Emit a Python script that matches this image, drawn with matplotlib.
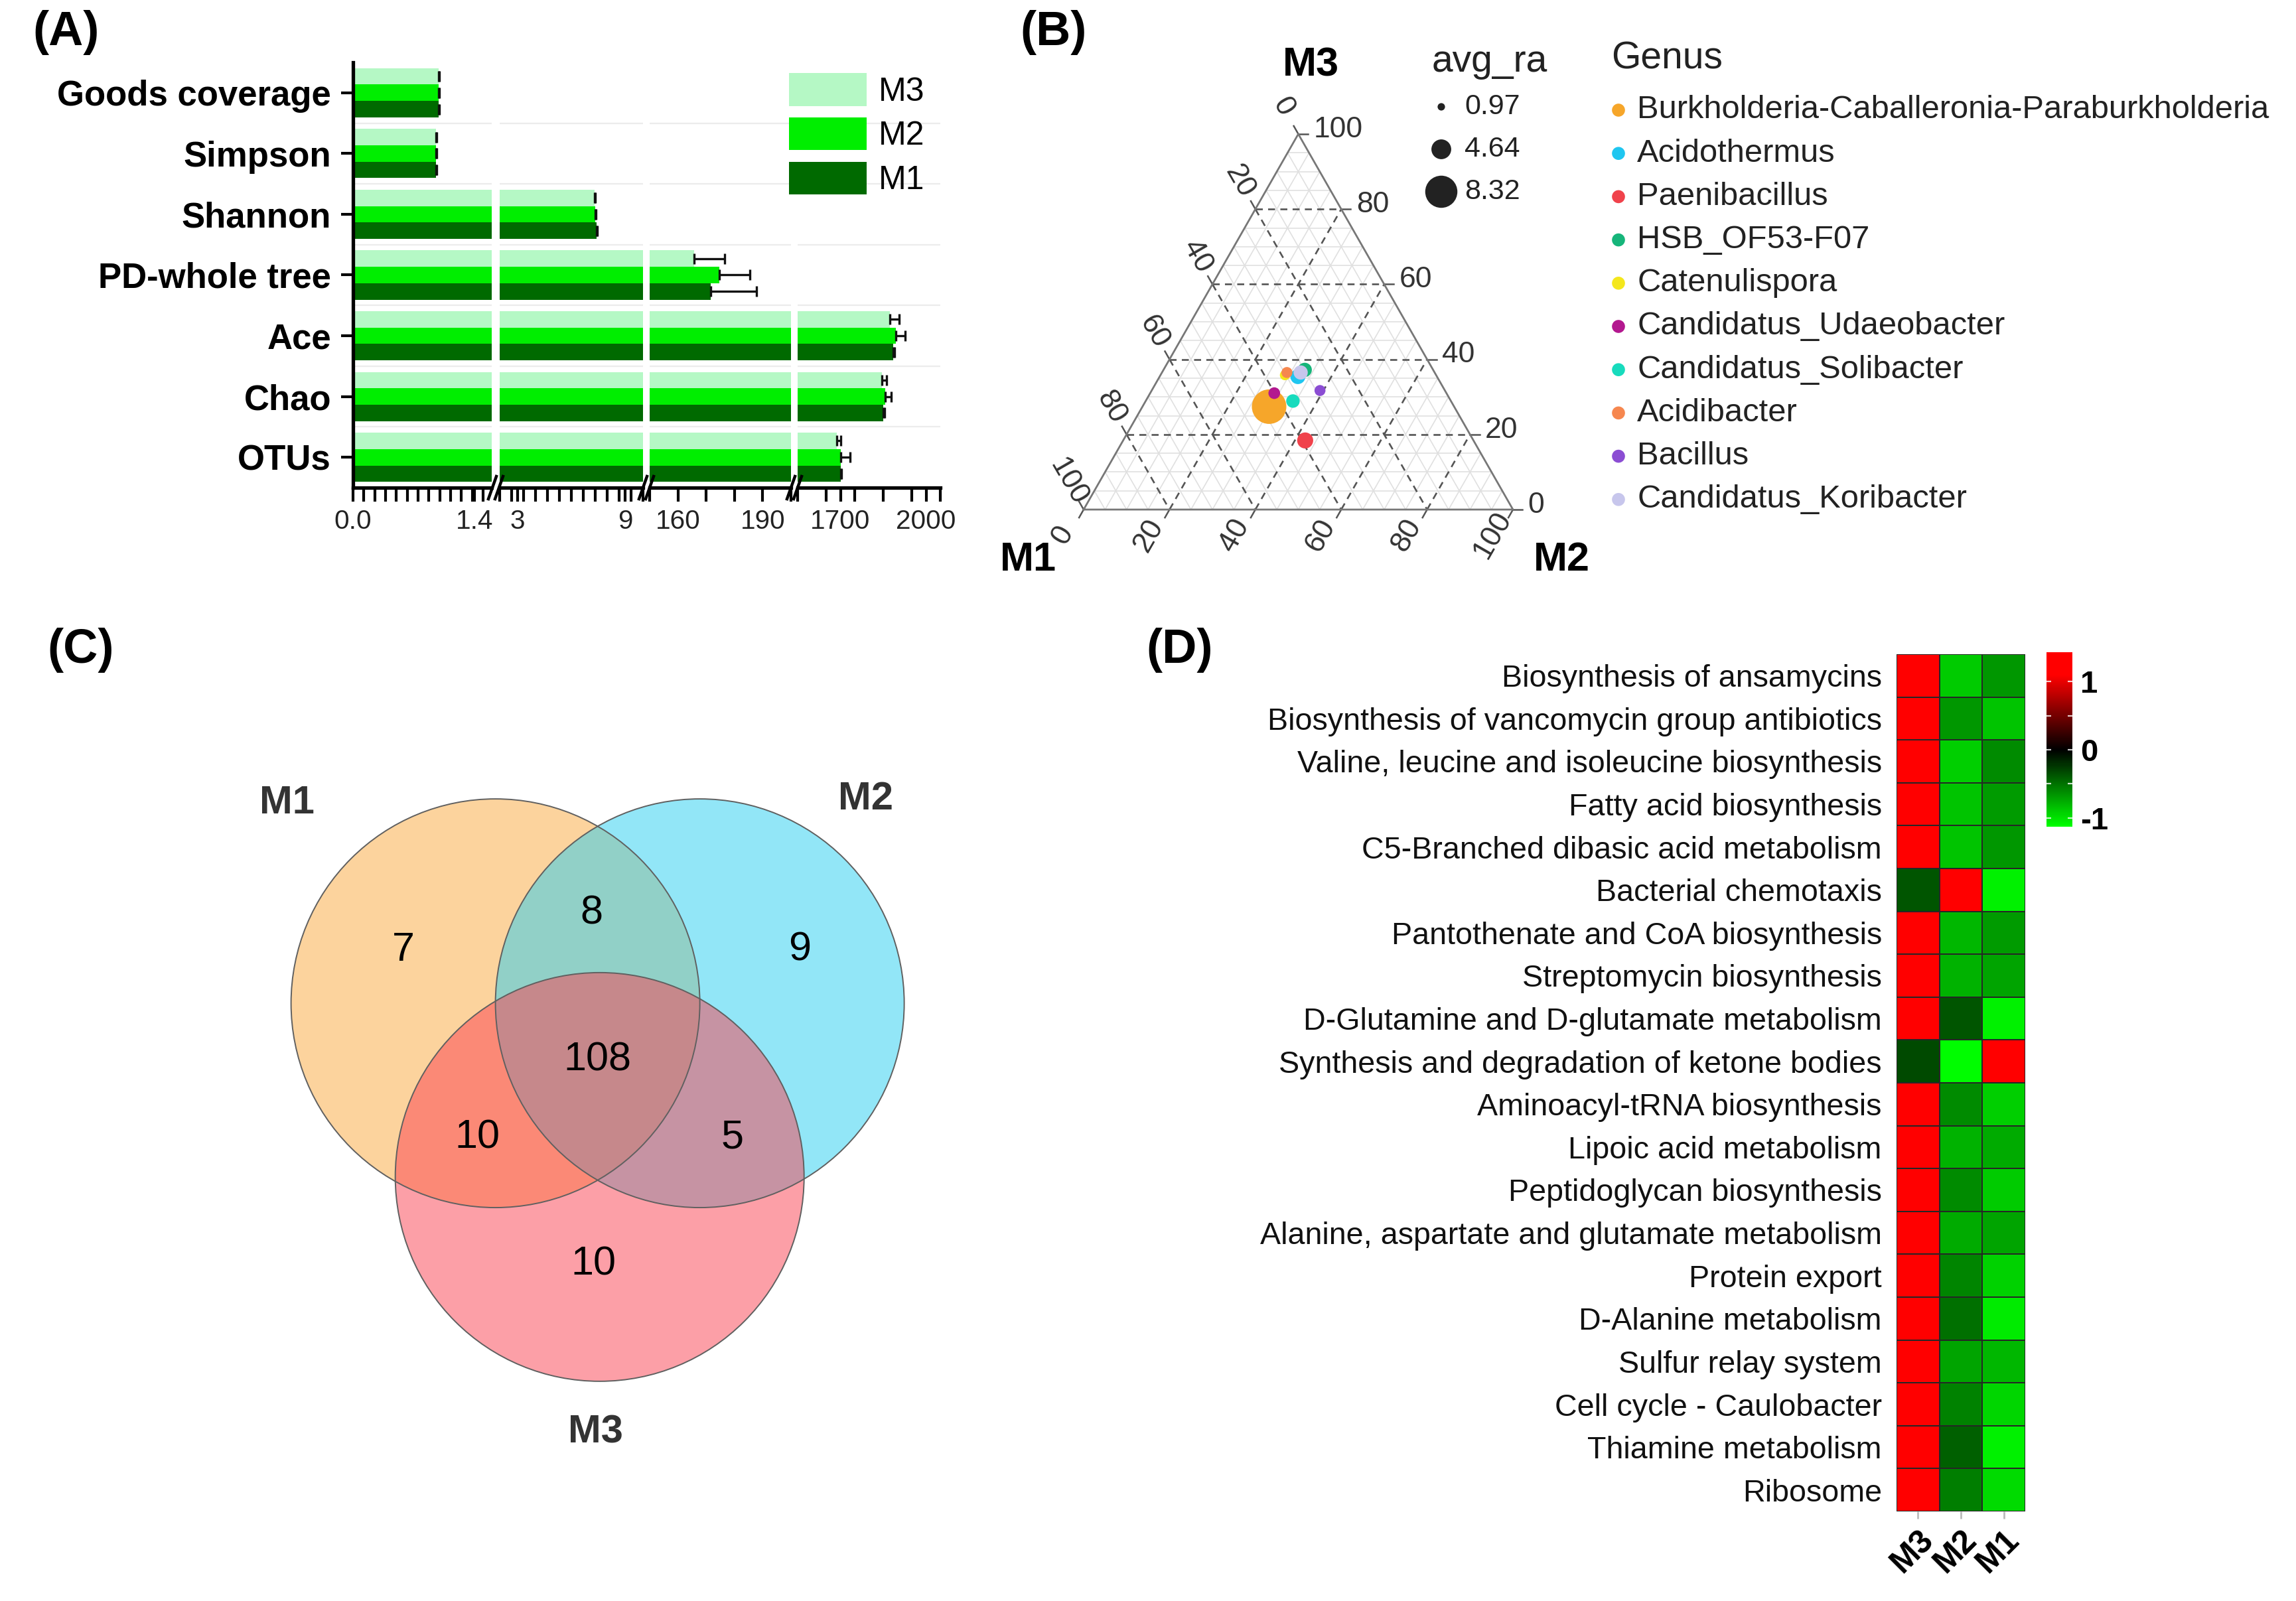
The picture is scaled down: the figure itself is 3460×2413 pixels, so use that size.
import numpy as np
import matplotlib
matplotlib.use('Agg')
import matplotlib.pyplot as plt
from matplotlib.patches import Circle, Patch
from matplotlib.colors import LinearSegmentedColormap, Normalize
from matplotlib.cm import ScalarMappable

plt.rcParams['font.family'] = ['Liberation Sans', 'DejaVu Sans']

W, H, DPI = 3460, 2413, 200

# ---------------- (A) alpha diversity ----------------
alpha_index = ['Goods coverage', 'Simpson', 'Shannon', 'PD-whole tree', 'Ace', 'Chao', 'OTUs']
m3_alpha = [0.99, 0.96, 7.30, 165.7, 1873, 1845, 1688]
m2_alpha = [0.99, 0.96, 7.35, 174.7, 1895, 1856, 1701]
m1_alpha = [0.99, 0.96, 7.40, 171.7, 1884, 1850, 1701]
m3_err = [0.002, 0.002, 0.03, 10.8, 32, 17, 13]
m2_err = [0.002, 0.002, 0.03, 10.7, 32, 21, 32]
m1_err = [0.002, 0.002, 0.03, 16.0, 5, 5, 3]

seg_ranges = [(0, 1.6), (2, 10), (150, 200), (1550, 2050)]
seg_ticks = [[0, 1.4], [3, 9], [160, 190], [1700, 2000]]
seg_ticklabels = [['0.0', '1.4'], ['3', '9'], ['160', '190'], ['1700', '2000']]

# ---------------- (B) ternary ----------------
genus = ['Burkholderia-Caballeronia-Paraburkholderia', 'Acidothermus', 'Paenibacillus',
         'HSB_OF53-F07', 'Catenulispora', 'Candidatus_Udaeobacter', 'Candidatus_Solibacter',
         'Acidibacter', 'Bacillus', 'Candidatus_Koribacter']
genus_colors = ['#f6a62a', '#1fc6f0', '#f0424b', '#16b57a', '#f4e71c', '#b3188f',
                '#17dbbd', '#f6874f', '#8b4dd3', '#c7c6ec']
tern_m1 = [43.1, 32.4, 39.2, 29.9, 35.2, 40.1, 36.8, 34.4, 29.1, 31.2]
tern_m2 = [29.5, 32.2, 42.4, 32.9, 29.0, 28.9, 34.3, 29.1, 39.2, 32.3]
tern_m3 = [27.4, 35.4, 18.4, 37.2, 35.8, 31.0, 28.9, 36.5, 31.7, 36.5]
avg_ra = [8.32, 2.9, 3.2, 2.7, 1.6, 2.0, 2.5, 1.8, 1.8, 2.7]
size_breaks = [0.97, 4.64, 8.32]

# ---------------- (C) Venn ----------------
venn_sets = ['M1', 'M2', 'M3']
venn_counts = {'M1': 7, 'M2': 9, 'M3': 10, 'M1M2': 8, 'M1M3': 10, 'M2M3': 5, 'M1M2M3': 108}

# ---------------- (D) heatmap ----------------
pathways = ['Biosynthesis of ansamycins', 'Biosynthesis of vancomycin group antibiotics',
            'Valine, leucine and isoleucine biosynthesis', 'Fatty acid biosynthesis',
            'C5-Branched dibasic acid metabolism', 'Bacterial chemotaxis',
            'Pantothenate and CoA biosynthesis', 'Streptomycin biosynthesis',
            'D-Glutamine and D-glutamate metabolism', 'Synthesis and degradation of ketone bodies',
            'Aminoacyl-tRNA biosynthesis', 'Lipoic acid metabolism', 'Peptidoglycan biosynthesis',
            'Alanine, aspartate and glutamate metabolism', 'Protein export', 'D-Alanine metabolism',
            'Sulfur relay system', 'Cell cycle - Caulobacter', 'Thiamine metabolism', 'Ribosome']
heat_samples = ['M3', 'M2', 'M1']
z_m3 = [1.15, 1.15, 1.15, 1.15, 1.15, -0.38, 1.15, 1.15, 1.15, -0.33,
        1.15, 1.15, 1.15, 1.15, 1.15, 1.15, 1.15, 1.15, 1.15, 1.15]
z_m2 = [-0.89, -0.66, -0.91, -0.86, -0.86, 1.15, -0.80, -0.78, -0.38, -1.11,
        -0.62, -0.78, -0.62, -0.75, -0.59, -0.50, -0.73, -0.58, -0.43, -0.55]
z_m1 = [-0.66, -0.86, -0.62, -0.69, -0.66, -1.06, -0.69, -0.73, -1.06, 1.15,
        -0.91, -0.75, -0.89, -0.73, -0.92, -1.03, -0.80, -0.94, -1.06, -0.96]

fig = plt.figure(figsize=(W / DPI, H / DPI), dpi=DPI)


def px_axes(x0, y0, x1, y1):
    return fig.add_axes([x0 / W, 1 - y1 / H, (x1 - x0) / W, (y1 - y0) / H])


def dot_size(v):
    # diameter in px grows linearly with avg_ra, returned as scatter area (pt^2)
    d = (6.3 + 5.07 * np.asarray(v)) * 72 / DPI
    return d ** 2


# ================= panel A =================
seg_minor = [0.125, 2 / 3, 10, 100]
seg_px = [(532, 741), (753, 969), (979, 1192), (1202, 1417)]
yy = np.arange(len(alpha_index))
bh = 0.27
series = [('M3', m3_alpha, m3_err, '#b5f8c5', -bh),
          ('M2', m2_alpha, m2_err, '#00ee00', 0.0),
          ('M1', m1_alpha, m1_err, '#006a00', bh)]
seg_axes = []
for i, (rng, maj, lab, step, (x0, x1)) in enumerate(zip(seg_ranges, seg_ticks, seg_ticklabels, seg_minor, seg_px)):
    ax = px_axes(x0, 94, x1, 735)
    for k in range(len(alpha_index) - 1):
        ax.axhline(k + 0.5, color='#ececec', lw=0.8, zorder=0)
    for name, vals, err, col, off in series:
        ax.barh(yy + off, vals, height=bh, color=col, linewidth=0, zorder=2)
        ax.errorbar(vals, yy + off, xerr=[np.zeros(len(err)), err], fmt='none',
                    ecolor='#111111', elinewidth=1.2, capsize=3, capthick=1.2, zorder=3)
    ax.set_xlim(*rng)
    ax.set_ylim(len(alpha_index) - 0.5, -0.5)
    ax.set_xticks(maj)
    ax.set_xticklabels(lab)
    ax.set_xticks(np.arange(rng[0], rng[1] + 1e-6, step), minor=True)
    ax.tick_params(axis='x', which='both', direction='out', length=7.5, width=1.5,
                   labelsize=14.6, pad=4, labelcolor='#222222')
    for s in ['top', 'right']:
        ax.spines[s].set_visible(False)
    ax.spines['bottom'].set_linewidth(1.9)
    if i == 0:
        ax.spines['left'].set_linewidth(1.9)
        ax.set_yticks(yy)
        ax.set_yticklabels(alpha_index, fontweight='bold', fontsize=19)
        ax.tick_params(axis='y', length=6.5, width=1.5, pad=5.4)
    else:
        ax.spines['left'].set_visible(False)
        ax.set_yticks([])
    ax.patch.set_visible(False)
    seg_axes.append(ax)

seg_axes[-1].legend(handles=[Patch(facecolor=c, edgecolor='none', label=n) for n, _, _, c, _ in series],
                    loc='upper left', bbox_to_anchor=(1189 / W, 1 - 110 / H),
                    bbox_transform=fig.transFigure, frameon=False, fontsize=18,
                    handlelength=2.34, handleheight=1.15, handletextpad=0.35,
                    labelspacing=0.3, borderpad=0, borderaxespad=0)

# ================= panel B =================
tern = px_axes(1633, 202, 2280, 768)
tern.set_xlim(0, 1)
tern.set_ylim(0, 1)
tern.axis('off')


def tproj(a, b, c):
    a, b, c = np.asarray(a, float), np.asarray(b, float), np.asarray(c, float)
    t = a + b + c
    return (b + 0.5 * c) / t, c / t


def tline(p, q, **kw):
    x, y = tproj([p[0], q[0]], [p[1], q[1]], [p[2], q[2]])
    tern.plot(x, y, clip_on=False, **kw)


for v in range(5, 100, 5):
    f = v / 100
    if v % 20 == 0:
        kw = dict(color='#555555', lw=0.95, ls=(0, (4, 3)), zorder=2)
    else:
        kw = dict(color='#e0e0e0', lw=0.6, zorder=1)
    tline((1 - f, 0, f), (0, 1 - f, f), **kw)
    tline((f, 0, 1 - f), (f, 1 - f, 0), **kw)
    tline((1 - f, f, 0), (0, f, 1 - f), **kw)

tx, ty = tproj([1, 0, 0, 1], [0, 1, 0, 0], [0, 0, 1, 0])
tern.plot(tx, ty, color='#777777', lw=1.0, zorder=3, clip_on=False)

for v in range(0, 101, 20):
    f = v / 100
    # M3 on the right edge
    x, y = tproj(0, 1 - f, f)
    tern.plot([x, x + 0.022], [y, y], color='#555555', lw=0.9, clip_on=False)
    tern.text(x + 0.035, y + 0.012, str(v), ha='left', va='center', fontsize=16, color='#333333')
    # M1 on the left edge
    x, y = tproj(f, 0, 1 - f)
    tern.plot([x, x - 0.0106], [y, y + 0.0214], color='#555555', lw=0.9, clip_on=False)
    tern.text(x - 0.036, y + 0.073, str(v), ha='center', va='center', rotation=-60,
              rotation_mode='anchor', fontsize=16, color='#333333')
    # M2 on the bottom edge
    x, y = tproj(1 - f, f, 0)
    tern.plot([x, x - 0.0106], [y, y - 0.0214], color='#555555', lw=0.9, clip_on=False)
    tern.text(x - 0.048, y - 0.068, str(v), ha='center', va='center', rotation=60,
              rotation_mode='anchor', fontsize=16, color='#333333')

px, py = tproj(tern_m1, tern_m2, tern_m3)
for i in range(len(genus)):
    tern.scatter(px[i], py[i], s=dot_size(avg_ra[i]) * 1.15, color=genus_colors[i],
                 edgecolors='none', zorder=5, clip_on=False)

# ================= panel C =================
venn = px_axes(300, 1100, 1500, 2250)
venn.set_xlim(-1.95, 1.946)
venn.set_ylim(-2.396, 1.338)
venn.axis('off')
venn_centers = {'M1': (-0.5, 0.0), 'M2': (0.5, 0.0), 'M3': (0.01, -0.85)}
venn_fill = {'M1': '#fba93d', 'M2': '#27cff1', 'M3': '#fb4151'}
for s in venn_sets:
    venn.add_patch(Circle(venn_centers[s], 1.0, facecolor=venn_fill[s], alpha=0.5, edgecolor='none'))
for s in venn_sets:
    venn.add_patch(Circle(venn_centers[s], 1.0, facecolor='none', edgecolor='#606060', lw=0.7))
venn_title_pos = {'M1': (-1.52, 0.98), 'M2': (1.31, 1.0), 'M3': (-0.01, -2.10)}
for s in venn_sets:
    venn.text(*venn_title_pos[s], s, ha='center', va='center', fontsize=21.5,
              fontweight='bold', color='#333333')
venn_num_pos = {'M1': (-0.95, 0.26), 'M2': (0.99, 0.26), 'M3': (-0.02, -1.28),
                'M1M2': (-0.03, 0.44), 'M1M3': (-0.59, -0.66), 'M2M3': (0.66, -0.66),
                'M1M2M3': (0.0, -0.28)}
for k, n in venn_counts.items():
    venn.text(*venn_num_pos[k], str(n), ha='center', va='center', fontsize=22, color='black')

# ================= panel D =================
heat = np.array([z_m3, z_m2, z_m1]).T
vmin, vmax = -1.13, 1.43
cmap = LinearSegmentedColormap.from_list(
    'gkr', [(0.0, '#00ff00'), ((0 - vmin) / (vmax - vmin), '#000000'),
            ((1.1 - vmin) / (vmax - vmin), '#ff0000'), (1.0, '#ff0000')])
norm = Normalize(vmin=vmin, vmax=vmax)
hax = px_axes(2858, 986, 3052, 2278)
hax.pcolormesh(heat, cmap=cmap, norm=norm, edgecolors='#262626', linewidth=0.7)
hax.set_xlim(0, len(heat_samples))
hax.set_ylim(len(pathways), 0)
hax.set_yticks(np.arange(len(pathways)) + 0.5)
hax.set_yticklabels(pathways, fontsize=16.8, color='#111111')
hax.tick_params(axis='y', length=0, pad=8)
hax.set_xticks(np.arange(len(heat_samples)) + 0.5)
hax.set_xticklabels(heat_samples, rotation=45, ha='right', va='top', rotation_mode='anchor',
                    fontsize=18, fontweight='bold')
hax.tick_params(axis='x', length=4, width=1.0, color='#bbbbbb', pad=3)
for s in hax.spines.values():
    s.set_visible(False)

cax = px_axes(3084, 983, 3123, 1246)
cb = fig.colorbar(ScalarMappable(norm=norm, cmap=cmap), cax=cax)
cb.outline.set_visible(False)
cb.set_ticks([-1, 0, 1])
cb.set_ticklabels(['-1', '0', '1'])
cax.tick_params(length=0, labelsize=17, pad=4.5)
for t in cax.get_yticklabels():
    t.set_fontweight('bold')
for v in [-1, -0.5, 0, 0.5, 1]:
    cax.hlines(v, 0, 0.18, colors='white', lw=0.8, alpha=0.8)
    cax.hlines(v, 0.82, 1, colors='white', lw=0.8, alpha=0.8)

# ================= overlay: panel tags, legends, axis breaks =================
ov = fig.add_axes([0, 0, 1, 1])
ov.set_xlim(0, W)
ov.set_ylim(H, 0)
ov.axis('off')

for tag, (x, y) in zip(['(A)', '(B)', '(C)', '(D)'], [(100, 49), (1588, 49), (122, 980), (1778, 980)]):
    ov.text(x, y, tag, ha='center', va='center', fontsize=26, fontweight='bold')

# broken-axis marks
for xc in [747, 974, 1197]:
    for dx in (-5, 5):
        ov.plot([xc + dx - 6, xc + dx + 6], [735 + 17, 735 - 17], color='black', lw=1.6)

# ternary vertex names
for name, (x, y) in zip(['M3', 'M1', 'M2'], [(1975, 99), (1549, 845), (2353, 845)]):
    ov.text(x, y, name, ha='center', va='center', fontsize=22, fontweight='bold')

# size legend
ov.text(2158, 93, 'avg_ra', ha='left', va='center', fontsize=20.5, color='#222222')
for i, b in enumerate(size_breaks):
    yb = 161 + 64 * i
    ov.scatter(2172, yb, s=dot_size(b), color='#222222', edgecolors='none')
    ov.text(2207, yb, f'{b:.2f}', ha='left', va='center', fontsize=15.5, color='#222222')

# genus legend
ov.text(2428, 88, 'Genus', ha='left', va='center', fontsize=20.5, color='#222222')
for i, (g, c) in enumerate(zip(genus, genus_colors)):
    yg = 166 + 65.2 * i
    ov.scatter(2439, yg, s=50, color=c, edgecolors='none')
    ov.text(2467, yg, g, ha='left', va='center', fontsize=17.6, color='#222222')

fig.savefig('out.png', dpi=DPI, facecolor='white')
